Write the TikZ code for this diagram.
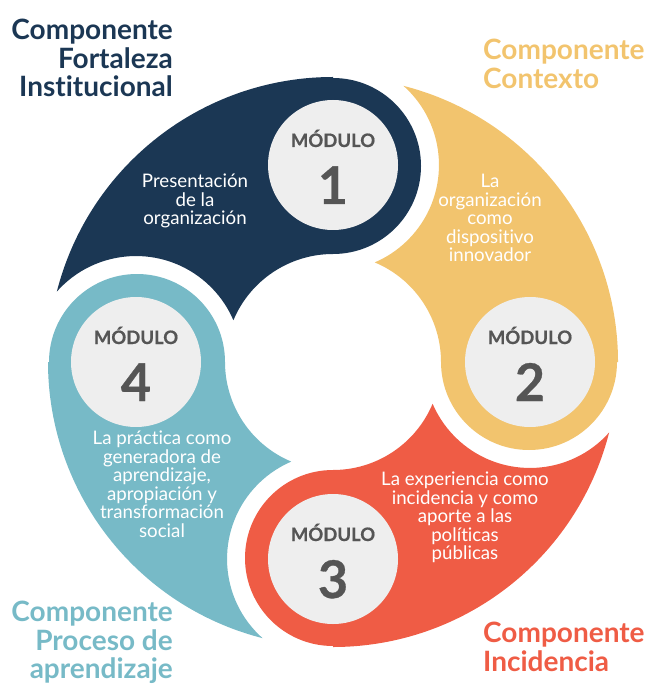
\documentclass[tikz,border=0pt]{standalone}
\usepackage{fontspec}
\setmainfont{Lato}[Ligatures=NoCommon]
\newfontfamily\modfont{Lato}[Ligatures=NoCommon, BoldFeatures={FakeBold=0.6}]
\usetikzlibrary{calc}
\definecolor{navy}{HTML}{1B3754}
\definecolor{gold}{HTML}{F2C46E}
\definecolor{coral}{HTML}{EF5C45}
\definecolor{tealc}{HTML}{77BAC7}
\definecolor{discc}{HTML}{EEEEEE}
\definecolor{numtxt}{HTML}{555555}
\newcommand\tsep{t\kern0pt}
\tikzset{
 titletxt/.style={font=\bfseries\fontsize{28}{28.5}\selectfont, inner sep=0pt},
 bodytxt/.style={font=\fontsize{18.7}{18.5}\selectfont, text=white, align=center, inner sep=0pt, anchor=north},
 modlabel/.style={font=\modfont\bfseries\fontsize{18.5}{20}\selectfont, text=numtxt, inner sep=0pt, anchor=base},
 modnum/.style={font=\modfont\bfseries\fontsize{52}{52}\selectfont, text=numtxt, inner sep=0pt, anchor=base},
 discstyle/.style={fill=discc, draw=none},
}
% #1 = angle of the module, #2 = colour
\newcommand\petalshape[2]{%
 \fill[#2] (#1:285) arc[start angle=#1, end angle={#1+75.68}, radius=285pt]
  arc[start angle={#1+48.3}, end angle={#1-66.77}, radius=106pt]
  -- ({#1+67.24}:108) arc[start angle={#1+67.24}, end angle=#1, radius=108pt]
  arc[start angle={#1+180}, end angle={#1+360}, radius=88pt] -- cycle;}
\begin{document}
\begin{tikzpicture}[x=1pt,y=1pt]
\useasboundingbox (0,0) rectangle (647,-684);
\begin{scope}[shift={(333,-362)}]
 \petalshape{90}{navy}
 \petalshape{0}{gold}
 \petalshape{270}{coral}
 \petalshape{180}{tealc}
 \foreach \a/\n/\lab in {90/1/m1, 0/2/m2, 270/3/m3, 180/4/m4}{
  \fill[discstyle] (\a:197) circle[radius=65pt];
  \node[modlabel] (\lab t) at ($(\a:197)+(0,18)$) {MÓDULO};
  \node[modnum] (\lab n) at ($(\a:197)+(0,-39)$) {\n};
 }
\end{scope}
\node[bodytxt] (txt1) at (195,-174) {Presentación\\de la\\organización};
\node[bodytxt] (txt2) at (490,-174) {La\\organización\\como\\disposi\tsep ivo\\innovador};
\node[bodytxt] (txt3) at (465,-472) {La experiencia como\\incidencia y como\\aporte a las\\polí\tsep icas\\públicas};
\node[bodytxt] (txt4) at (162,-431) {La prác\tsep ica como\\generadora de\\aprendizaje,\\apropiación y\\transformación\\social};
\node[titletxt, text=navy, align=right, anchor=north east] (c1) at (173,-19) {Componente\\Fortaleza\\Ins\tsep itucional};
\node[titletxt, text=gold, align=left, anchor=north west] (c2) at (483,-39) {Componente\\Contexto};
\node[titletxt, text=tealc, align=right, anchor=north east] (c4) at (173,-601) {Componente\\Proceso de\\aprendizaje};
\node[titletxt, text=coral, align=left, anchor=north west] (c3) at (483,-622) {Componente\\Incidencia};
\end{tikzpicture}
\end{document}
